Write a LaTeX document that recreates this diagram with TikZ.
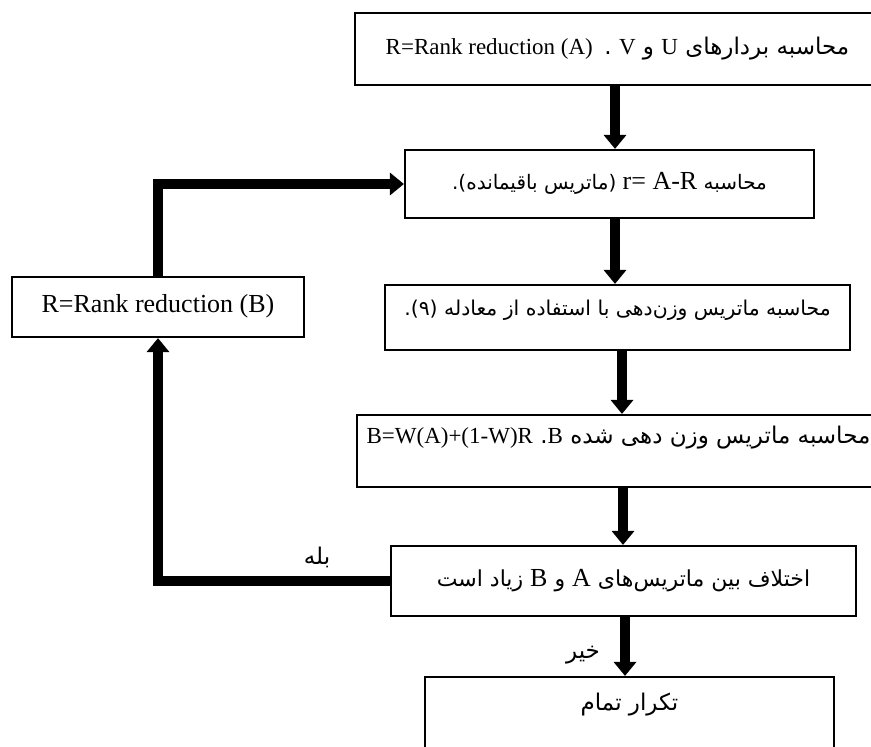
\documentclass[tikz,border=0pt]{standalone}
\usepackage{fontspec}
\setmainfont{Liberation Serif}
\newfontfamily\fa[Script=Arabic]{DejaVu Sans}
\TeXXeTstate=1
\usetikzlibrary{arrows.meta}
\newcommand{\lt}[2][\relax]{\beginL{\rmfamily#1#2}\endL}
\newcommand{\latbig}{\fontsize{13}{15}\selectfont}

\begin{document}
\begin{tikzpicture}[x=0.5pt,y=-0.5pt,
  box/.style={draw,line width=1.1pt,rectangle,inner sep=0pt,
    font=\fontsize{11.5}{14}\selectfont,text height=8pt,text depth=3pt},
  flow/.style={line width=5pt,-{Triangle[width=11pt,length=7pt]}},
  answer/.style={font=\fontsize{11.5}{14}\selectfont\fa,inner sep=1pt}]
  \useasboundingbox (0,0) rectangle (871,746);
  \node[box,minimum width=262.5pt,minimum height=36pt] (uv) at (617.5,49)
    {\fa\beginR محاسبه بردارهای \lt{U} و \lt{V} .\enspace\lt{R=Rank reduction (A)}\endR};
  \node[box,minimum width=204.5pt,minimum height=34pt,font=\fontsize{10}{14}\selectfont] (resid) at (609.5,184)
    {\fa\beginR محاسبه \lt[\latbig]{r= A-R} (ماتریس باقیمانده).\endR};
  \node[box,minimum width=232.5pt,minimum height=32.5pt,text depth=10.5pt,font=\fontsize{10.2}{14}\selectfont] (weight) at (617.5,317.5)
    {\fa\beginR محاسبه ماتریس وزن‌دهی با استفاده از معادله (۹).\endR};
  \node[box,minimum width=261.5pt,minimum height=36pt,text depth=16pt] (wB) at (618.5,451)
    {\fa\beginR محاسبه ماتریس وزن دهی شده \lt{B}. \lt{B=W(A)+(1-W)R}\endR};
  \node[box,minimum width=232.5pt,minimum height=35pt,font=\fontsize{11}{14}\selectfont] (diff) at (623.5,581)
    {\fa\beginR اختلاف بین ماتریس‌های \lt[\latbig]{A} و \lt[\latbig]{B} زیاد است\endR};
  \node[box,minimum width=204.5pt,minimum height=41.5pt,text depth=16.5pt] (done) at (629.5,718.5)
    {\fa\beginR تکرار تمام\endR};
  \node[box,minimum width=146pt,minimum height=30pt,font=\latbig] (rankB) at (158,307)
    {R=Rank reduction (B)};

  \draw[flow] (615,0 |- uv.south) -- (615,0 |- resid.north);
  \draw[flow] (615,0 |- resid.south) -- (615,0 |- weight.north);
  \draw[flow] (622,0 |- weight.south) -- (622,0 |- wB.north);
  \draw[flow] (623,0 |- wB.south) -- (623,0 |- diff.north);
  \draw[flow] (625,0 |- diff.south) -- (625,0 |- done.north);
  \draw[flow] (rankB.north) |- (resid.west);
  \draw[flow] (diff.west) -| (rankB.south);
  \node[answer] (yes) at (317,557) {بله};
  \node[answer] (no) at (583,655) {خیر};
\end{tikzpicture}
\end{document}
